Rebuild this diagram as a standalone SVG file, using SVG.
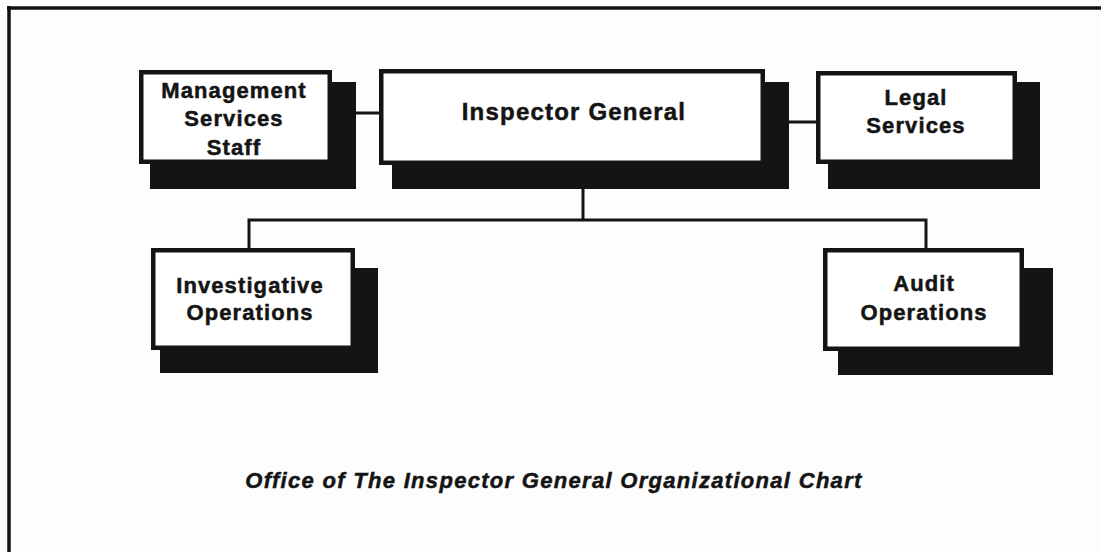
<svg xmlns="http://www.w3.org/2000/svg" width="1101" height="552" viewBox="0 0 1101 552">
<style>
.bg{fill:#fdfdfd}
.frame{stroke:#111;stroke-width:3.5;fill:none}
.shadow{fill:#141414}
.box{fill:#ffffff;stroke:#141414;stroke-width:4.5}
.conn{stroke:#141414;stroke-width:3;fill:none}
.t{font-family:"Liberation Sans",Arial,sans-serif;font-weight:bold;font-size:22px;fill:#141414;stroke:#141414;stroke-width:0.5;text-anchor:middle;letter-spacing:1.1px}
.tig{font-size:24px;letter-spacing:1.2px}
.cap{font-family:"Liberation Sans",Arial,sans-serif;font-weight:bold;font-style:italic;font-size:22px;fill:#141414;stroke:#141414;stroke-width:0.5;text-anchor:middle;letter-spacing:1.3px}
</style>
<rect class="bg" x="0" y="0" width="1101" height="552"/>
<g id="frame">
<line class="frame" x1="7" y1="8" x2="1101" y2="8"/>
<line class="frame" x1="9" y1="6" x2="9" y2="552"/>
</g>
<g id="connectors">
<line class="conn" x1="352" y1="113" x2="381" y2="113"/>
<line class="conn" x1="785" y1="122" x2="818" y2="122"/>
<line class="conn" x1="583" y1="187" x2="583" y2="220"/>
<polyline class="conn" points="249,250 249,220 926,220 926,250"/>
</g>
<g id="management">
<rect class="shadow" x="150" y="82" width="206" height="107"/>
<rect class="box" x="141.25" y="72.25" width="188.5" height="89.5"/>
<text class="t" x="234" y="98">Management</text>
<text class="t" x="234" y="126">Services</text>
<text class="t" x="234" y="155">Staff</text>
</g>
<g id="inspector-general">
<rect class="shadow" x="392" y="82" width="397" height="107"/>
<rect class="box" x="381.25" y="71.25" width="381.5" height="91.5"/>
<text class="t tig" x="574" y="120">Inspector General</text>
</g>
<g id="legal">
<rect class="shadow" x="828" y="82" width="212" height="107"/>
<rect class="box" x="818.25" y="73.25" width="196.5" height="88.5"/>
<text class="t" x="916" y="105">Legal</text>
<text class="t" x="916" y="133">Services</text>
</g>
<g id="investigative">
<rect class="shadow" x="160" y="268" width="218" height="105"/>
<rect class="box" x="153.25" y="250.25" width="199.5" height="97.5"/>
<text class="t" x="250" y="293">Investigative</text>
<text class="t" x="250" y="320">Operations</text>
</g>
<g id="audit">
<rect class="shadow" x="838" y="268" width="215" height="107"/>
<rect class="box" x="825.25" y="250.25" width="196.5" height="98.5"/>
<text class="t" x="924" y="291">Audit</text>
<text class="t" x="924" y="320">Operations</text>
</g>
<text class="cap" x="554" y="488">Office of The Inspector General Organizational Chart</text>
</svg>
